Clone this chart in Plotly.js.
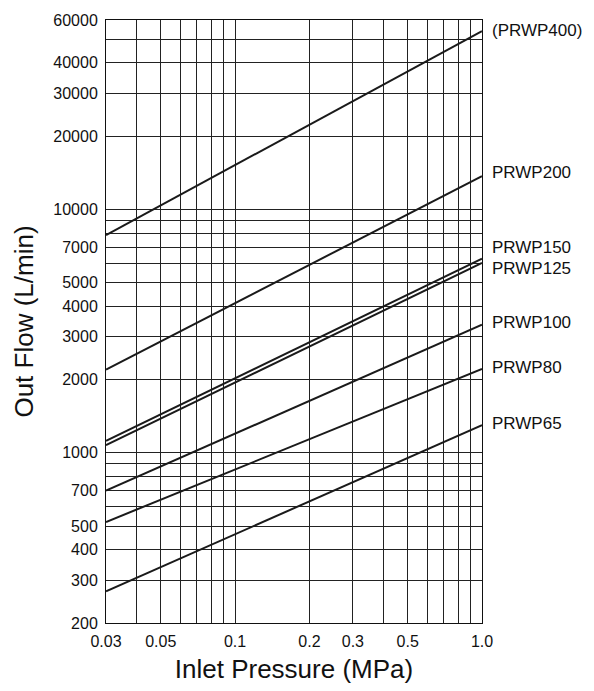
<!DOCTYPE html>
<html>
<head>
<meta charset="utf-8">
<script src="https://cdn.plot.ly/plotly-3.0.1.min.js"></script>
<style>html,body{margin:0;padding:0;background:#fff;}#chart{width:594px;height:691px;}</style>
</head>
<body>
<div id="chart"></div>
<script>
// ---- data ----
const pressure = [0.03, 1.0];               // MPa (line end points)
const seriesNames = ["(PRWP400)", "PRWP200", "PRWP150", "PRWP125", "PRWP100", "PRWP80", "PRWP65"];
const PRWP400 = [7850, 54000];
const PRWP200 = [2200, 13700];
const PRWP150 = [1120, 6280];
const PRWP125 = [1075, 6030];
const PRWP100 = [700, 3360];
const PRWP80  = [520, 2210];
const PRWP65  = [270, 1300];
const xGrid = [0.03,0.04,0.05,0.06,0.07,0.08,0.09,0.1,0.2,0.3,0.4,0.5,0.6,0.7,0.8,0.9,1.0];
const xTickLabels = {"0.03":"0.03","0.05":"0.05","0.1":"0.1","0.2":"0.2","0.3":"0.3","0.5":"0.5","1":"1.0"};
const yGrid = [200,300,400,500,600,700,800,900,1000,2000,3000,4000,5000,6000,7000,8000,9000,10000,20000,30000,40000,50000,60000];
const yTickLabels = [200,300,400,500,700,1000,2000,3000,4000,5000,7000,10000,20000,30000,40000,60000];

// ---- styles ----
const seriesValues = [PRWP400, PRWP200, PRWP150, PRWP125, PRWP100, PRWP80, PRWP65];
const labelYShift = [1, 4, 11, -6, 2, 2, 2];
const FONT = "Liberation Sans, Arial, Helvetica, sans-serif";

const traces = seriesValues.map((v, i) => ({
  x: pressure, y: v, type: "scatter", mode: "lines",
  name: seriesNames[i], line: {color: "#1a1a1a", width: 2}, hoverinfo: "skip"
}));

const annotations = seriesValues.map((v, i) => ({
  x: Math.log10(pressure[pressure.length - 1]),
  y: Math.log10(v[v.length - 1]),
  xref: "x", yref: "y", text: seriesNames[i], showarrow: false,
  xanchor: "left", yanchor: "middle", xshift: 9, yshift: labelYShift[i],
  borderpad: 0,
  font: {family: FONT, size: 17, color: "#111"}
}));

const layout = {
  width: 594, height: 691,
  margin: {l: 106, r: 112, t: 20, b: 68},
  paper_bgcolor: "#fff", plot_bgcolor: "#fff",
  showlegend: false,
  font: {family: FONT, color: "#111"},
  xaxis: {
    type: "log", range: [Math.log10(0.03), Math.log10(1.0)],
    tickmode: "array", tickvals: xGrid,
    ticktext: xGrid.map(v => xTickLabels[String(v)] || ""),
    ticks: "", showgrid: true, gridcolor: "#222", gridwidth: 1,
    showline: true, mirror: true, linecolor: "#111", linewidth: 1,
    zeroline: false, tickfont: {family: FONT, size: 16, color: "#111"},
    ticklabelstandoff: 4,
    title: {text: "Inlet Pressure (MPa)", font: {family: FONT, size: 26, color: "#111"}, standoff: 10},
    automargin: true, fixedrange: true
  },
  yaxis: {
    type: "log", range: [Math.log10(200), Math.log10(60000)],
    tickmode: "array", tickvals: yGrid,
    ticktext: yGrid.map(v => yTickLabels.includes(v) ? String(v) : ""),
    ticks: "", showgrid: true, gridcolor: "#222", gridwidth: 1,
    showline: true, mirror: true, linecolor: "#111", linewidth: 1,
    zeroline: false, tickfont: {family: FONT, size: 16, color: "#111"},
    ticklabelstandoff: 4,
    title: {text: "Out Flow (L/min)", font: {family: FONT, size: 26, color: "#111"}, standoff: 12},
    automargin: true, fixedrange: true
  },
  annotations: annotations
};

Plotly.newPlot("chart", traces, layout, {displayModeBar: false, staticPlot: true});
</script>
</body>
</html>
